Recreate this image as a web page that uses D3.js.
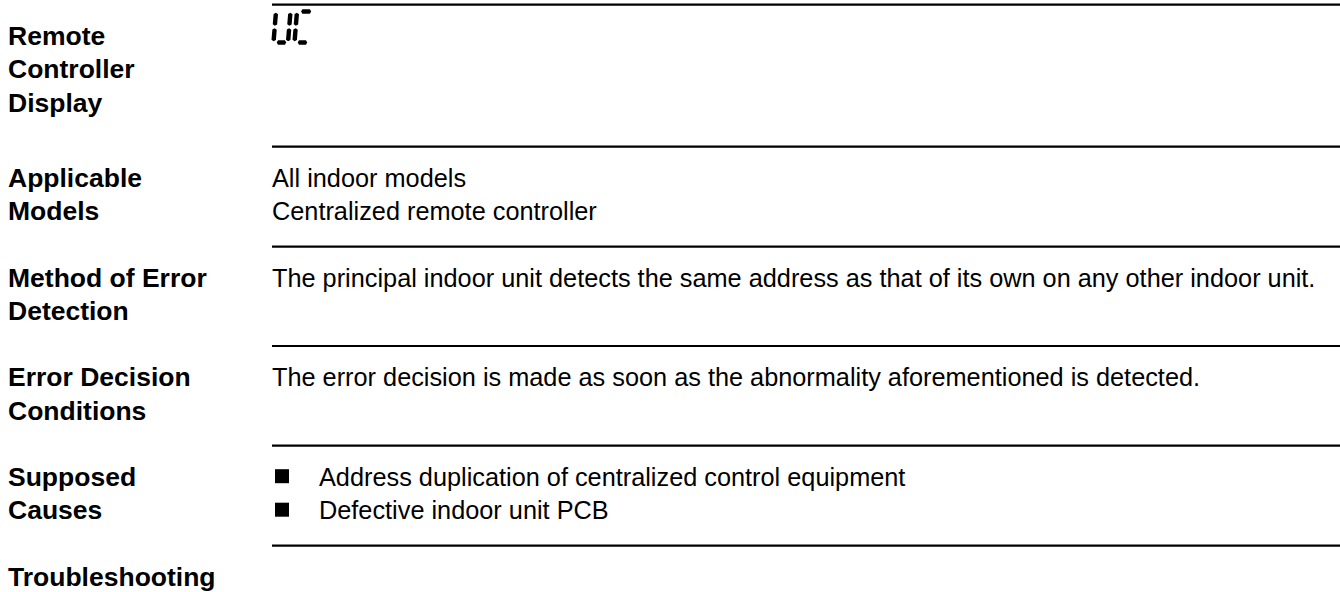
<!DOCTYPE html>
<html>
<head>
<meta charset="utf-8">
<script src="https://cdn.jsdelivr.net/npm/d3@7/dist/d3.min.js"></script>
<style>
  html, body { margin: 0; padding: 0; background: #fff; }
  svg { display: block; }
</style>
</head>
<body>
<svg id="chart" width="1340" height="592"></svg>
<script>
// ---------- data ----------
const sectionLabels = [
  ["Remote", "Controller", "Display"],
  ["Applicable", "Models"],
  ["Method of Error", "Detection"],
  ["Error Decision", "Conditions"],
  ["Supposed", "Causes"],
  ["Troubleshooting"]
];
const sectionTexts = [
  [],
  ["All indoor models", "Centralized remote controller"],
  ["The principal indoor unit detects the same address as that of its own on any other indoor unit."],
  ["The error decision is made as soon as the abnormality aforementioned is detected."],
  [],
  []
];
const causeBullets = [
  "Address duplication of centralized control equipment",
  "Defective indoor unit PCB"
];
const displayCode = ["U", "C"];
// seven-segment map for the display characters
const segmentMap = { U: ["b", "c", "d", "e", "f"], C: ["a", "d", "e", "f"] };

// ---------- layout ----------
const W = 1340, H = 592;
const labelX = 8, valueX = 272, bulletTextX = 319;
const sectionTops = [4.7, 146.7, 246.7, 346, 445.7, 545.7];
const firstBaseline = 40, lineStep = 33.5;
const fontFam = "'Liberation Sans', Arial, Helvetica, sans-serif";

const svg = d3.select("#chart");

// row scale: line index -> baseline offset within a section
const rowY = d3.scaleLinear().domain([0, 1]).range([firstBaseline, firstBaseline + lineStep]);

// horizontal rules
svg.append("g").selectAll("line")
  .data(sectionTops)
  .join("line")
  .attr("x1", valueX).attr("x2", W)
  .attr("y1", d => d).attr("y2", d => d)
  .attr("stroke", "#000").attr("stroke-width", 2.2);

// labels
const labG = svg.append("g")
  .attr("font-family", fontFam)
  .attr("font-weight", "bold")
  .attr("font-size", 26.5)
  .attr("fill", "#000");
sectionLabels.forEach((lines, i) => {
  labG.append("text")
    .selectAll("tspan")
    .data(lines)
    .join("tspan")
    .attr("x", labelX)
    .attr("y", (d, j) => sectionTops[i] + rowY(j))
    .text(d => d);
});

// value texts
const valG = svg.append("g")
  .attr("font-family", fontFam)
  .attr("font-size", 25.3)
  .attr("fill", "#000");
sectionTexts.forEach((lines, i) => {
  valG.append("text")
    .selectAll("tspan")
    .data(lines)
    .join("tspan")
    .attr("x", valueX)
    .attr("y", (d, j) => sectionTops[i] + rowY(j))
    .text(d => d);
});

// bullets for supposed causes (section 4)
const bSec = 4;
const bG = svg.append("g");
bG.selectAll("rect")
  .data(causeBullets)
  .join("rect")
  .attr("x", 275)
  .attr("y", (d, j) => sectionTops[bSec] + rowY(j) - 16.5)
  .attr("width", 14).attr("height", 14)
  .attr("fill", "#000");
bG.selectAll("text")
  .data(causeBullets)
  .join("text")
  .attr("x", bulletTextX)
  .attr("y", (d, j) => sectionTops[bSec] + rowY(j))
  .attr("font-family", fontFam)
  .attr("font-size", 25.3)
  .attr("fill", "#000")
  .text(d => d);

// seven-segment display code ("UC")
const charW = 14.5, charH = 31, slant = 2.5, pitch = 21, thick = 4.4;
const gx = d3.scaleLinear().domain([0, 1]).range([0, charW]);
const gy = d3.scaleLinear().domain([0, 1]).range([0, charH]);
const segDefs = {
  a: [[0.28, 0], [0.98, 0]],
  b: [[1, 0.04], [1, 0.46]],
  c: [[1, 0.54], [1, 0.96]],
  d: [[0.22, 1], [0.88, 1]],
  e: [[0, 0.54], [0, 0.96]],
  f: [[0, 0.04], [0, 0.46]],
  g: [[0.2, 0.5], [0.8, 0.5]]
};
function pt(p) { return [gx(p[0]) + (1 - p[1]) * slant, gy(p[1])]; }
function segPath(s) {
  const p1 = pt(segDefs[s][0]), p2 = pt(segDefs[s][1]);
  const dx = p2[0] - p1[0], dy = p2[1] - p1[1];
  const len = Math.hypot(dx, dy);
  const ux = dx / len, uy = dy / len, nx = -uy, ny = ux, h = thick / 2, t = h * 0.6;
  const pts = [
    p1,
    [p1[0] + ux * t + nx * h, p1[1] + uy * t + ny * h],
    [p2[0] - ux * t + nx * h, p2[1] - uy * t + ny * h],
    p2,
    [p2[0] - ux * t - nx * h, p2[1] - uy * t - ny * h],
    [p1[0] + ux * t - nx * h, p1[1] + uy * t - ny * h]
  ];
  return d3.line()(pts) + "Z";
}
const dispG = svg.append("g").attr("transform", "translate(273.5,11.5)");
displayCode.forEach((ch, k) => {
  dispG.append("g")
    .attr("transform", `translate(${k * pitch},0)`)
    .selectAll("path")
    .data(segmentMap[ch])
    .join("path")
    .attr("d", segPath)
    .attr("fill", "#000");
});
</script>
</body>
</html>
